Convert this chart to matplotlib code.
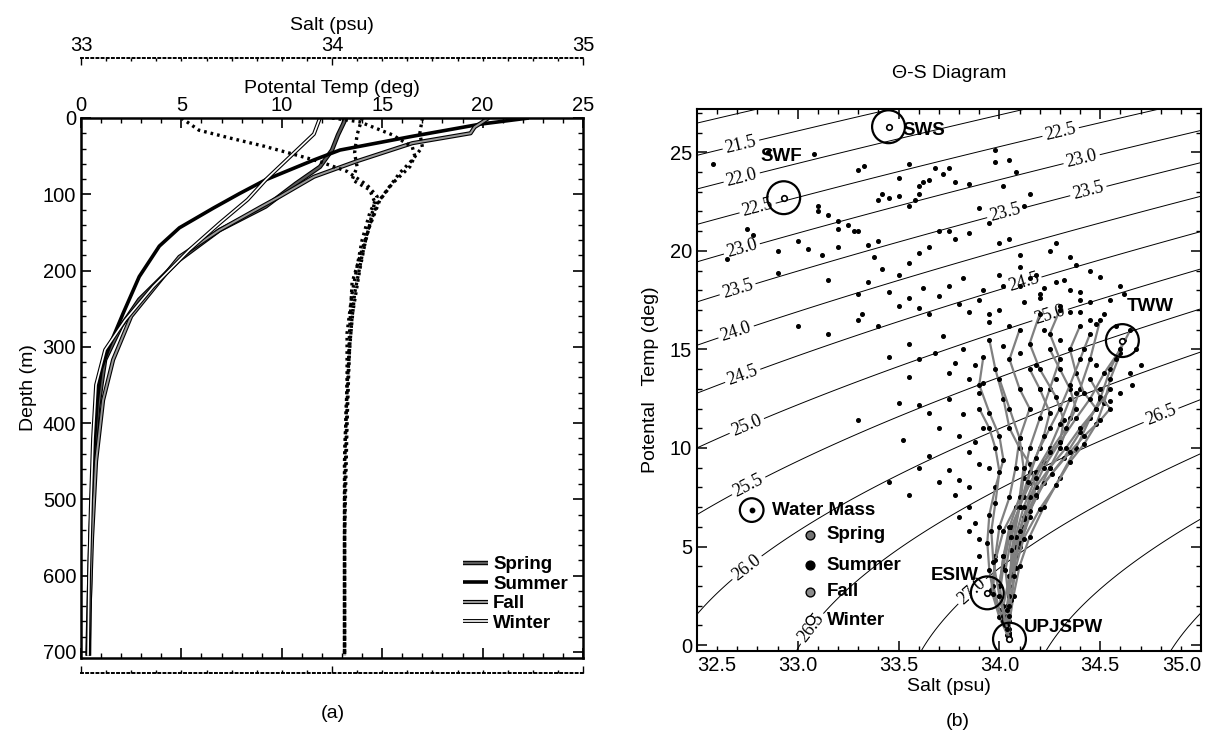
import numpy as np
import matplotlib
matplotlib.use("Agg")
import matplotlib.pyplot as plt
import matplotlib.patheffects as pe
from matplotlib.ticker import MultipleLocator

plt.rcParams['font.family'] = ['Liberation Sans', 'DejaVu Sans']

# ---- (a) seasonal profiles: potential temperature (solid) and salt (dotted)
seasons = ['Spring', 'Summer', 'Fall', 'Winter']

temp_depth = {
    'Spring': [0, 22, 42, 64, 86, 116, 147, 186, 238, 273, 317, 380, 450, 550, 650, 705],
    'Summer': [0, 8, 24, 42, 55, 81, 99, 118, 144, 168, 208, 256, 300, 330, 372, 450, 550, 650, 705],
    'Fall':   [0, 12, 20, 33, 57, 77, 103, 116, 147, 182, 234, 260, 317, 370, 450, 550, 650, 705],
    'Winter': [0, 21, 46, 81, 107, 138, 173, 221, 265, 304, 350, 420, 500, 600, 705],
}
temp_val = {
    'Spring': [13.2, 12.8, 12.5, 11.9, 10.7, 9.2, 6.9, 4.9, 2.9, 2.0, 1.2, 0.85, 0.65, 0.5, 0.42, 0.4],
    'Summer': [22.3, 19.9, 16.5, 12.9, 11.6, 9.2, 7.9, 6.6, 4.9, 3.9, 2.9, 2.1, 1.4, 1.0, 0.8, 0.6, 0.45, 0.35, 0.3],
    'Fall':   [20.3, 19.6, 19.4, 16.5, 13.7, 11.6, 9.9, 9.0, 6.9, 4.9, 3.3, 2.5, 1.6, 1.1, 0.75, 0.55, 0.42, 0.38],
    'Winter': [11.9, 11.6, 10.6, 9.2, 8.3, 6.9, 5.4, 3.6, 2.2, 1.2, 0.75, 0.6, 0.5, 0.4, 0.35],
}
salt_depth = {
    'Spring': [0, 16, 26, 37, 46, 57, 70, 88, 103, 125, 160, 195, 230, 282, 350, 450, 550, 705],
    'Summer': [0, 5, 22, 38, 50, 64, 86, 108, 142, 172, 216, 280, 380, 500, 705],
    'Fall':   [0, 20, 38, 55, 72, 94, 112, 150, 200, 260, 350, 450, 600, 705],
    'Winter': [0, 22, 46, 64, 81, 94, 110, 140, 180, 230, 300, 400, 550, 705],
}
salt_val = {
    'Spring': [33.40, 33.47, 33.59, 33.73, 33.83, 33.95, 34.06, 34.14, 34.18, 34.15, 34.12, 34.10, 34.08, 34.06, 34.06, 34.05, 34.05, 34.05],
    'Summer': [34.00, 34.11, 34.24, 34.32, 34.33, 34.31, 34.24, 34.19, 34.15, 34.12, 34.08, 34.07, 34.06, 34.05, 34.05],
    'Fall':   [34.36, 34.35, 34.36, 34.32, 34.27, 34.22, 34.18, 34.14, 34.11, 34.08, 34.06, 34.05, 34.05, 34.05],
    'Winter': [34.12, 34.10, 34.09, 34.10, 34.08, 34.15, 34.17, 34.15, 34.12, 34.09, 34.07, 34.06, 34.05, 34.05],
}

# ---- (b) theta-S scatter
sparse_S = [32.58, 32.85, 33.08, 33.30, 33.33, 33.50, 33.55, 33.68, 33.75, 33.98, 33.98, 34.05, 34.08,
            33.60, 33.62, 33.65, 33.72, 33.78, 33.85, 33.45, 33.50, 33.55, 33.58, 33.60, 33.40, 33.42,
            34.02, 34.15, 34.12, 33.10, 33.10, 33.15, 33.20, 33.25, 33.28, 33.20, 33.30, 32.75, 32.78,
            32.90, 33.00, 33.05, 33.12, 33.20, 33.35, 33.38, 33.40, 33.42, 33.50, 33.55, 33.60, 33.65,
            33.70, 33.75, 33.78, 33.85, 33.90, 33.95, 34.00, 34.05, 34.10, 34.25, 34.28, 34.35, 34.38,
            34.45, 34.50, 34.60, 34.55, 34.62, 32.65, 32.90, 33.15, 33.30, 33.35, 33.45, 33.50, 33.55,
            33.60, 33.62, 33.65, 33.70, 33.75, 33.80, 33.82, 33.85, 33.90, 33.92, 33.95, 34.00, 34.02,
            33.30, 33.32, 33.00, 33.15, 33.40, 33.55, 33.60, 33.68, 33.72, 33.75, 33.78, 33.82, 33.85,
            33.88, 33.90, 33.92, 33.45, 33.55, 33.60, 33.65, 33.70, 33.75, 33.80, 33.82, 33.85, 33.88,
            33.90, 33.65, 33.70, 33.75, 33.78, 33.80, 33.85, 33.88, 33.90, 33.60, 33.52, 33.55, 33.45,
            33.50, 33.30, 34.20, 34.30, 34.40, 34.48, 34.15, 34.22, 34.35, 34.45, 34.52, 34.58, 34.68,
            34.70, 34.66, 34.10, 34.18, 34.28, 34.40,
            33.95, 34.05, 34.12, 34.22, 34.30, 34.35, 34.42, 34.48, 34.02, 34.10, 34.18, 34.28, 34.38,
            34.50, 34.58, 34.55, 34.60, 34.65, 33.92, 33.95, 33.85, 33.80, 33.90, 33.85, 34.20, 34.45,
            34.00, 34.10, 34.20, 34.32, 34.40]
sparse_T = [24.4, 25.0, 24.9, 24.1, 24.3, 23.7, 24.4, 24.2, 24.2, 25.1, 24.5, 24.6, 24.0,
            23.3, 23.5, 23.6, 23.9, 23.5, 23.4, 22.7, 22.8, 22.3, 22.6, 22.9, 22.6, 22.9,
            23.3, 22.9, 22.3, 22.3, 22.0, 21.8, 21.5, 21.3, 21.0, 21.1, 21.0, 21.1, 20.8,
            20.0, 20.5, 20.1, 19.8, 20.2, 20.3, 19.7, 20.5, 19.1, 18.8, 19.4, 19.9, 20.2,
            21.0, 21.0, 20.6, 20.9, 22.2, 21.4, 20.4, 20.6, 19.8, 20.0, 20.4, 19.7, 19.3,
            19.0, 18.7, 18.2, 17.5, 17.8, 19.6, 18.9, 18.5, 17.8, 18.4, 17.9, 17.2, 17.6,
            17.1, 18.1, 16.8, 17.7, 18.2, 17.3, 18.6, 16.9, 17.5, 18.0, 16.4, 17.0, 18.2,
            16.5, 16.8, 16.2, 15.8, 16.2, 15.3, 14.5, 14.8, 15.7, 13.8, 14.3, 15.0, 13.5,
            14.2, 12.8, 13.3, 14.6, 13.6, 12.2, 11.8, 11.0, 12.5, 10.6, 11.7, 9.8, 10.3,
            9.2, 9.6, 8.3, 8.9, 7.6, 8.4, 7.0, 6.2, 5.4, 9.0, 10.4, 7.6, 8.3,
            12.3, 11.4, 17.6, 17.2, 16.9, 16.3, 18.6, 18.1, 18.0, 17.4, 16.8, 16.2, 15.0,
            14.2, 13.2, 19.2, 18.8, 18.4, 17.9,
            16.8, 16.2, 17.4, 16.0, 15.5, 16.9, 15.0, 14.2, 15.2, 14.8, 14.2, 13.5, 12.8,
            13.0, 14.5, 12.4, 12.8, 13.8, 11.0, 9.0, 8.0, 6.5, 4.5, 5.8, 13.0, 16.5,
            18.8, 18.2, 17.8, 18.5, 17.5]

band_S = [
    [34.62, 34.55, 34.50, 34.45, 34.38, 34.30, 34.22, 34.15, 34.10, 34.07, 34.05, 34.05],
    [34.50, 34.45, 34.40, 34.35, 34.30, 34.25, 34.18, 34.12, 34.08, 34.05, 34.04, 34.05],
    [34.30, 34.25, 34.30, 34.25, 34.20, 34.15, 34.12, 34.10, 34.05, 34.02, 34.00, 34.03, 34.05],
    [34.10, 34.05, 34.10, 34.15, 34.10, 34.08, 34.05, 34.00, 33.98, 33.97, 34.00, 34.04],
    [33.95, 33.98, 34.02, 34.05, 34.10, 34.15, 34.18, 34.15, 34.10, 34.05, 34.02, 34.05],
    [34.40, 34.35, 34.38, 34.42, 34.48, 34.40, 34.32, 34.22, 34.15, 34.10, 34.06, 34.04, 34.05],
    [34.60, 34.55, 34.52, 34.48, 34.42, 34.35, 34.28, 34.20, 34.12, 34.08, 34.06, 34.05],
    [34.20, 34.15, 34.20, 34.28, 34.32, 34.30, 34.22, 34.15, 34.08, 34.02, 33.98, 33.96, 34.00, 34.05],
    [33.92, 33.90, 33.95, 34.00, 34.02, 33.98, 33.95, 33.94, 33.95, 33.97, 34.02, 34.05],
    [34.45, 34.50, 34.55, 34.50, 34.42, 34.35, 34.26, 34.18, 34.12, 34.08, 34.05, 34.04, 34.05],
    [34.55, 34.48, 34.40, 34.33, 34.25, 34.18, 34.12, 34.08, 34.05, 34.04],
    [34.35, 34.30, 34.25, 34.18, 34.12, 34.06, 34.02, 34.00, 34.02, 34.05],
    [34.00, 34.05, 34.10, 34.12, 34.10, 34.05, 34.02, 34.00, 34.03],
    [34.65, 34.60, 34.52, 34.45, 34.38, 34.30, 34.22, 34.15, 34.10, 34.07, 34.05],
    [34.25, 34.30, 34.35, 34.38, 34.33, 34.25, 34.18, 34.12, 34.08, 34.05, 34.04],
    [33.90, 33.95, 33.98, 34.00, 33.98, 33.96, 33.97, 34.00, 34.04],
    [34.45, 34.40, 34.35, 34.30, 34.25, 34.20, 34.15, 34.10, 34.06, 34.05],
    [34.15, 34.20, 34.25, 34.22, 34.18, 34.14, 34.10, 34.06, 34.03, 34.05],
]
band_T = [
    [15.5, 14.0, 12.5, 11.5, 10.0, 8.5, 7.0, 5.5, 4.0, 2.5, 1.2, 0.4],
    [16.5, 14.5, 13.0, 11.5, 10.0, 9.0, 7.5, 6.0, 4.5, 3.0, 1.5, 0.5],
    [17.0, 15.8, 14.5, 13.0, 11.5, 10.0, 8.5, 7.0, 5.5, 4.0, 2.5, 1.0, 0.4],
    [16.0, 14.5, 13.0, 12.0, 10.5, 9.0, 7.5, 6.0, 4.5, 3.0, 1.8, 0.5],
    [15.5, 14.0, 12.5, 11.0, 10.0, 9.2, 8.0, 6.5, 5.0, 3.5, 2.0, 0.6],
    [16.2, 15.0, 13.8, 12.8, 12.0, 10.8, 9.5, 8.2, 6.8, 5.2, 3.6, 2.0, 0.6],
    [14.8, 13.5, 12.3, 11.2, 10.2, 9.3, 8.1, 6.9, 5.4, 3.9, 2.3, 0.8],
    [16.8, 15.3, 14.0, 12.6, 11.4, 10.3, 9.3, 8.2, 7.0, 5.8, 4.3, 2.8, 1.4, 0.3],
    [14.6, 13.2, 11.8, 10.6, 9.4, 8.0, 6.6, 5.2, 3.8, 2.6, 1.2, 0.4],
    [13.5, 12.6, 12.0, 11.4, 10.6, 9.8, 8.7, 7.6, 6.4, 5.0, 3.5, 2.0, 0.5],
    [13.0, 12.0, 11.0, 10.0, 9.0, 8.0, 6.5, 5.0, 3.0, 1.0],
    [12.5, 11.2, 10.0, 8.8, 7.5, 6.0, 4.5, 3.0, 1.5, 0.3],
    [13.5, 12.0, 10.5, 9.0, 7.5, 6.0, 4.5, 3.0, 1.0],
    [16.0, 15.0, 13.8, 12.5, 11.5, 10.3, 9.0, 7.5, 5.8, 3.5, 1.5],
    [15.0, 14.0, 13.0, 12.0, 11.0, 9.8, 8.5, 7.0, 5.5, 3.5, 1.8],
    [12.0, 11.0, 10.0, 8.8, 7.2, 5.8, 4.2, 2.5, 0.8],
    [15.8, 14.5, 13.2, 12.0, 11.0, 10.0, 8.8, 7.0, 4.8, 2.5],
    [14.0, 13.0, 11.8, 10.6, 9.5, 8.3, 7.0, 5.5, 3.8, 2.0],
]

mass_names = ['SWS', 'SWF', 'TWW', 'ESIW', 'UPJSPW']
mass_S = [33.45, 32.93, 34.61, 33.94, 34.05]
mass_T = [26.3, 22.7, 15.45, 2.65, 0.3]
label_S = [33.52, 32.92, 34.75, 33.78, 34.12]
label_T = [26.1, 24.8, 17.2, 3.55, 0.9]
label_ha = ['left', 'center', 'center', 'center', 'left']

sig_levels = np.arange(21.0, 28.01, 0.5)
label_pos = [(32.72, 25.3), (32.72, 23.8), (32.80, 22.2), (32.72, 20.2), (32.70, 18.1),
             (32.70, 15.7), (32.75, 13.0), (32.78, 10.3), (32.78, 7.6), (32.75, 3.9),
             (33.00, 1.4), (33.85, 2.9), (34.30, 26.2), (34.40, 25.0), (34.43, 23.5),
             (34.05, 21.1), (34.10, 19.1), (34.25, 16.8), (34.80, 11.7)]


def sigma_t(S, T):
    # UNESCO 1981 density at surface pressure
    rw = (999.842594 + 6.793952e-2 * T - 9.095290e-3 * T**2 + 1.001685e-4 * T**3
          - 1.120083e-6 * T**4 + 6.536332e-9 * T**5)
    A = 0.824493 - 4.0899e-3 * T + 7.6438e-5 * T**2 - 8.2467e-7 * T**3 + 5.3875e-9 * T**4
    B = -5.72466e-3 + 1.0227e-4 * T - 1.6546e-6 * T**2
    return rw + A * S + B * S**1.5 + 4.8314e-4 * S**2 - 1000.0


TICK = 14.5
LAB = 14

fig = plt.figure(figsize=(12.1, 7.31), dpi=100)

# ================= panel (a)
ax = fig.add_axes([81 / 1210, 73 / 731, 502 / 1210, 540 / 731])
styles = {
    'Spring': dict(color='0.35', lw=1.6, pe=[pe.Stroke(linewidth=3.2, foreground='k'), pe.Normal()]),
    'Summer': dict(color='k', lw=2.6, pe=None),
    'Fall':   dict(color='0.6', lw=1.4, pe=[pe.Stroke(linewidth=3.0, foreground='k'), pe.Normal()]),
    'Winter': dict(color='white', lw=1.2, pe=[pe.Stroke(linewidth=2.8, foreground='k'), pe.Normal()]),
}
handles = []
for s in seasons:
    st = styles[s]
    ln, = ax.plot(temp_val[s], temp_depth[s], color=st['color'], lw=st['lw'],
                  solid_capstyle='butt', label=s)
    if st['pe']:
        ln.set_path_effects(st['pe'])
    handles.append(ln)

axs = ax.twiny()
for s in seasons:
    axs.plot(salt_val[s], salt_depth[s], color='k', lw=2.4, ls=(0, (0.8, 1.2)))
axs.set_xlim(33, 35)
axs.set_xticks([33, 34, 35])
axs.xaxis.set_minor_locator(MultipleLocator(0.1))
axs.spines['top'].set_position(('outward', 43))
axs.spines['bottom'].set_visible(True)
axs.spines['bottom'].set_position(('outward', 11))
for side in ['top', 'bottom']:
    axs.spines[side].set_linestyle(':')
    axs.spines[side].set_linewidth(1.4)
axs.spines['left'].set_visible(False)
axs.spines['right'].set_visible(False)
axs.tick_params(axis='x', which='both', top=True, bottom=True, labeltop=True, labelbottom=False,
                direction='in', labelsize=TICK, pad=2)
axs.tick_params(which='major', length=5, width=1)
axs.tick_params(which='minor', length=2.5, width=1)
axs.set_xlabel('Salt (psu)', fontsize=LAB, labelpad=5)

# primary (temperature) axis set up after twiny, which resets tick sides
ax.set_xlim(0, 25)
ax.set_ylim(708, 0)
ax.xaxis.set_ticks_position('both')
ax.xaxis.set_label_position('top')
ax.tick_params(axis='x', which='both', top=True, bottom=True, labeltop=True, labelbottom=False,
               direction='in', labelsize=TICK, pad=2)
ax.tick_params(axis='y', which='both', left=True, right=True, direction='in', labelsize=TICK)
ax.tick_params(which='major', length=7, width=1.2)
ax.tick_params(which='minor', length=3.5, width=1)
ax.xaxis.set_major_locator(MultipleLocator(5))
ax.xaxis.set_minor_locator(MultipleLocator(1))
ax.yaxis.set_major_locator(MultipleLocator(100))
ax.yaxis.set_minor_locator(MultipleLocator(20))
ax.set_xlabel('Potental Temp (deg)', fontsize=LAB, labelpad=2)
ax.set_ylabel('Depth (m)', fontsize=LAB, labelpad=4)
for sp in ax.spines.values():
    sp.set_linewidth(1.8)

leg = ax.legend(handles=handles, loc='lower right', bbox_to_anchor=(0.985, 0.035), frameon=False,
                handlelength=1.3, handletextpad=0.3, labelspacing=0.12, borderaxespad=0,
                prop={'weight': 'bold', 'size': 13.5})
fig.text(333 / 1210, 1 - 714 / 731, '(a)', ha='center', va='center', fontsize=LAB)

# ================= panel (b)
bx = fig.add_axes([697 / 1210, 80 / 731, 504 / 1210, 542 / 731])
Sg, Tg = np.meshgrid(np.linspace(32.5, 35.0, 300), np.linspace(-0.5, 27.5, 300))
cs = bx.contour(Sg, Tg, sigma_t(Sg, Tg), levels=sig_levels, colors='k', linewidths=0.7)
with plt.rc_context({'font.family': ['Liberation Serif', 'DejaVu Serif']}):
    bx.clabel(cs, fmt='%.1f', manual=label_pos, inline=True, inline_spacing=3, fontsize=13)

for ss, tt in zip(band_S, band_T):
    bx.plot(ss, tt, color='0.5', lw=1.6, zorder=3)
    bx.plot(ss, tt, ls='none', marker='o', ms=2.6, color='k', zorder=3)
bx.plot(sparse_S, sparse_T, ls='none', marker='o', ms=2.6, color='k', zorder=3)

bx.scatter(mass_S, mass_T, s=560, facecolors='none', edgecolors='k', linewidths=1.6, zorder=5)
bx.scatter(mass_S, mass_T, s=16, facecolors='white', edgecolors='k', linewidths=1.2, zorder=6)
for n, xs, ys, ha in zip(mass_names, label_S, label_T, label_ha):
    bx.text(xs, ys, n, ha=ha, va='center', fontsize=13.5, fontweight='bold', zorder=7)

# water-mass / season key
bx.scatter([0.1085], [0.26], s=290, facecolors='none', edgecolors='k', linewidths=1.6,
           transform=bx.transAxes, zorder=6)
bx.scatter([0.1085], [0.26], s=10, facecolors='k', edgecolors='k', transform=bx.transAxes, zorder=6)
bx.text(0.148, 0.26, 'Water Mass', transform=bx.transAxes, va='center', fontsize=13.5,
        fontweight='bold')
key_face = ['0.45', 'k', '0.55', 'white']
key_y = [0.2145, 0.1585, 0.109, 0.057]
for s, fc, yy in zip(seasons, key_face, key_y):
    bx.scatter([0.224], [yy], s=40, facecolors=fc, edgecolors='k', linewidths=1.0,
               transform=bx.transAxes, zorder=6)
    bx.text(0.257, yy, s, transform=bx.transAxes, va='center', fontsize=13.5, fontweight='bold')

bx.set_xlim(32.5, 35.0)
bx.set_ylim(-0.3, 27.2)
bx.xaxis.set_minor_locator(MultipleLocator(0.1))
bx.yaxis.set_major_locator(MultipleLocator(5))
bx.yaxis.set_minor_locator(MultipleLocator(1))
bx.set_xticks(np.arange(32.5, 35.01, 0.5))
bx.set_xticklabels(['32.5', '33.0', '33.5', '34.0', '34.5', '35.0'])
tl = bx.get_xticklabels()
tl[0].set_ha('left')
tl[-1].set_ha('right')
bx.tick_params(which='both', direction='in', top=True, right=True, labelsize=TICK)
bx.tick_params(which='major', length=7, width=1.1)
bx.tick_params(which='minor', length=3.5, width=1)
bx.set_xlabel('Salt (psu)', fontsize=LAB, labelpad=2)
bx.set_ylabel('Potental   Temp (deg)', fontsize=LAB, labelpad=8)
bx.set_title('\u0398-S Diagram', fontsize=LAB, pad=22)
for sp in bx.spines.values():
    sp.set_linewidth(1.5)
fig.text(958 / 1210, 1 - 722 / 731, '(b)', ha='center', va='center', fontsize=LAB)

fig.savefig('out.png', dpi=100)
